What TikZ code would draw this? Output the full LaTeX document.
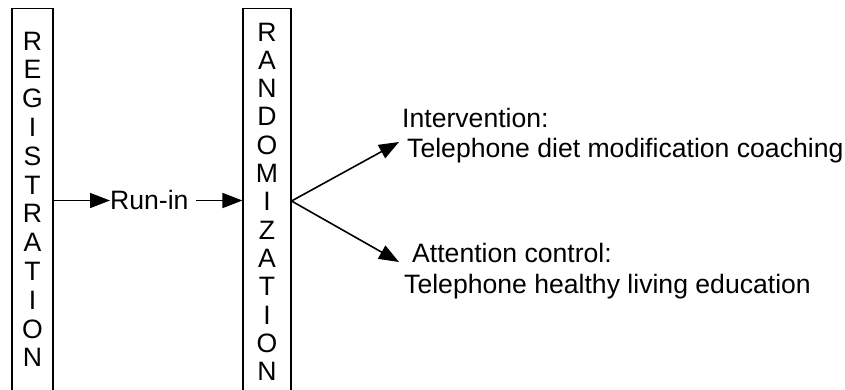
\documentclass[tikz,border=0pt]{standalone}
\usepackage{fontspec}
\setmainfont{Liberation Sans}
\usetikzlibrary{arrows.meta}
\begin{document}
\begin{tikzpicture}[x=1pt,y=-1pt,
  txt/.style={font=\fontsize{26.6}{30}\selectfont, inner sep=0pt, anchor=base west},
  letter/.style={font=\fontsize{26.6}{30}\selectfont, inner sep=0pt, anchor=base},
  vbox/.style={draw, line width=1.1pt, rectangle, inner sep=0pt, anchor=north},
  arr/.style={line width=1.6pt, -{Triangle[length=20pt,width=15pt]}}]
\useasboundingbox (0,0) rectangle (845,389);
\clip (0,0) rectangle (845,389);
% boxes
\node[vbox, minimum width=41pt, minimum height=392pt] (reg) at (32.5,8) {};
\node[vbox, minimum width=48pt, minimum height=392pt] (rand) at (267,8) {};
% letters
\foreach \l [count=\i from 0] in {R,E,G,I,S,T,R,A,T,I,O,N}
  \node[letter] (reg-\i) at (32.5,{50+28.8*\i}) {\l};
\foreach \l [count=\i from 0] in {R,A,N,D,O,M,I,Z,A,T,I,O,N}
  \node[letter] (rand-\i) at (267,{41+28.33*\i}) {\l};
% run-in
\node[txt] (runin) at (110,209.5) {Run-in};
\coordinate (mid) at (0,200.5);
\draw[arr] (reg.east |- mid) -- (runin.west |- mid);
\draw[arr] ([xshift=7pt]runin.east |- mid) -- (rand.west |- mid);
% branches
\coordinate (fork) at (291,201);
\coordinate (tip1) at (399,142);
\coordinate (tip2) at (399,262);
\draw[arr] (rand.east |- fork) -- (tip1);
\draw[arr] (rand.east |- fork) -- (tip2);
% texts
\node[txt] (int1) at (402,127) {Intervention:};
\node[txt] (int2) at (407,157) {Telephone diet modification coaching};
\node[txt] (att1) at (412,262) {Attention control:};
\node[txt] (att2) at (404,293) {Telephone healthy living education};
\end{tikzpicture}
\end{document}
